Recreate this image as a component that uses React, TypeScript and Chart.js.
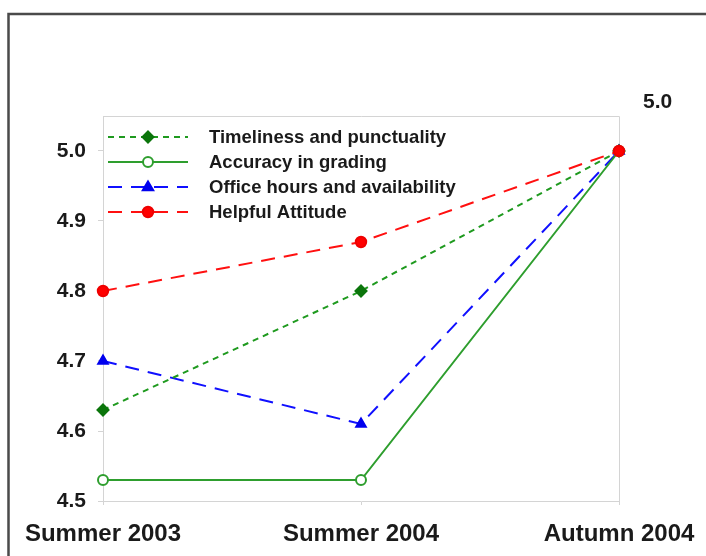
import React, { useEffect, useRef } from "react";
import { Chart, registerables } from "chart.js";

Chart.register(...registerables);

const categories = ["Summer 2003", "Summer 2004", "Autumn 2004"];
const seriesLabels = [
  "Timeliness and punctuality",
  "Accuracy in grading",
  "Office hours and availability",
  "Helpful Attitude",
];
const timeliness = [4.63, 4.8, 5.0];
const accuracy = [4.53, 4.53, 5.0];
const officeHours = [4.7, 4.61, 5.0];
const helpful = [4.8, 4.87, 5.0];
const yTicks = [4.5, 4.6, 4.7, 4.8, 4.9, 5.0];
const endLabel = "5.0";

type Sty = {
  color: string;
  dash: number[];
  shape: string;
  fill: string;
  stroke: string;
  radius: number;
};

const styles: Sty[] = [
  { color: "#1f9a1f", dash: [6, 5], shape: "rectRot", fill: "#0b750b", stroke: "#0b750b", radius: 5.5 },
  { color: "#2e9e2e", dash: [], shape: "circle", fill: "#ffffff", stroke: "#2e9e2e", radius: 5 },
  { color: "#1010ff", dash: [14, 9], shape: "triangle", fill: "#0000ee", stroke: "#0000ee", radius: 5.5 },
  { color: "#ff1010", dash: [14, 9], shape: "circle", fill: "#ff0000", stroke: "#ee0000", radius: 5.2 },
];

function drawMarker(ctx: CanvasRenderingContext2D, s: Sty, x: number, y: number) {
  ctx.save();
  ctx.setLineDash([]);
  ctx.fillStyle = s.fill;
  ctx.strokeStyle = s.stroke;
  ctx.lineWidth = 2;
  const r = s.radius;
  ctx.beginPath();
  if (s.shape === "rectRot") {
    ctx.moveTo(x, y - r);
    ctx.lineTo(x + r, y);
    ctx.lineTo(x, y + r);
    ctx.lineTo(x - r, y);
    ctx.closePath();
  } else if (s.shape === "triangle") {
    ctx.moveTo(x, y - r);
    ctx.lineTo(x + r * 0.95, y + r * 0.6);
    ctx.lineTo(x - r * 0.95, y + r * 0.6);
    ctx.closePath();
  } else {
    ctx.arc(x, y, r, 0, Math.PI * 2);
  }
  ctx.fill();
  ctx.stroke();
  ctx.restore();
}

export default function App() {
  const ref = useRef<HTMLCanvasElement | null>(null);

  useEffect(() => {
    document.body.style.margin = "0";
    const canvas = ref.current;
    if (!canvas) return;
    const values = [timeliness, accuracy, officeHours, helpful];
    const orders = [1, 2, 3, 0];

    const extras = {
      id: "extras",
      beforeDatasetsDraw(chart: any) {
        const { ctx, chartArea } = chart;
        ctx.save();
        ctx.strokeStyle = "#d4d4d4";
        ctx.lineWidth = 1;
        ctx.beginPath();
        ctx.moveTo(chartArea.left, chartArea.top + 0.5);
        ctx.lineTo(chartArea.right + 0.5, chartArea.top + 0.5);
        ctx.lineTo(chartArea.right + 0.5, chartArea.bottom);
        ctx.stroke();
        ctx.restore();
      },
      afterDraw(chart: any) {
        const { ctx, chartArea } = chart;
        const xs = chart.scales.x;
        const ys = chart.scales.y;
        ctx.save();
        // legend
        ctx.font = "bold 18.5px 'Liberation Sans', Arial, sans-serif";
        ctx.textBaseline = "middle";
        ctx.textAlign = "left";
        seriesLabels.forEach((label, i) => {
          const s = styles[i];
          const y = chartArea.top + 21 + i * 25;
          const x0 = chartArea.left + 5;
          ctx.save();
          ctx.strokeStyle = s.color;
          ctx.lineWidth = 2;
          ctx.setLineDash(s.dash);
          ctx.beginPath();
          ctx.moveTo(x0, y);
          ctx.lineTo(x0 + 80, y);
          ctx.stroke();
          ctx.restore();
          drawMarker(ctx, s, x0 + 40, y);
          ctx.fillStyle = "#1a1a1a";
          ctx.fillText(label, x0 + 101, y + 1);
        });
        // end value label
        ctx.font = "bold 21px 'Liberation Sans', Arial, sans-serif";
        ctx.textAlign = "left";
        ctx.fillStyle = "#1a1a1a";
        const lx = xs.getPixelForValue(categories.length - 1);
        ctx.fillText(endLabel, lx + 24, ys.top - 14);
        // frame
        ctx.strokeStyle = "#4a4a4a";
        ctx.lineWidth = 2.5;
        ctx.strokeRect(8.5, 14, 900, 700);
        ctx.restore();
      },
    };

    const chart = new Chart(canvas, {
      type: "line",
      data: {
        labels: categories,
        datasets: values.map((v, i) => ({
          label: seriesLabels[i],
          data: v,
          order: orders[i],
          borderColor: styles[i].color,
          borderWidth: 2,
          borderDash: styles[i].dash,
          pointStyle: styles[i].shape as any,
          pointRadius: styles[i].radius,
          pointBackgroundColor: styles[i].fill,
          pointBorderColor: styles[i].stroke,
          pointBorderWidth: 2,
          tension: 0,
          fill: false,
        })),
      },
      options: {
        animation: false,
        responsive: false,
        devicePixelRatio: 1,
        layout: { padding: { top: 116, right: 87, left: 0, bottom: 0 } },
        plugins: {
          legend: { display: false },
          tooltip: { enabled: false },
        },
        scales: {
          x: {
            type: "category",
            offset: false,
            afterFit(scale: any) {
              scale.height = 55;
              scale.paddingRight = 0;
              scale.paddingLeft = 0;
            },
            grid: {
              drawOnChartArea: false,
              drawTicks: true,
              tickLength: 4,
              color: "#d4d4d4",
            },
            border: { color: "#d4d4d4" },
            ticks: {
              padding: 15,
              maxRotation: 0,
              autoSkip: false,
              color: "#1a1a1a",
              font: { family: "'Liberation Sans', Arial, sans-serif", size: 24, weight: "bold" },
            },
          },
          y: {
            min: yTicks[0],
            max: 5.05,
            afterFit(scale: any) {
              scale.width = 103;
            },
            afterBuildTicks(scale: any) {
              scale.ticks = yTicks.map((v) => ({ value: v }));
            },
            grid: {
              drawOnChartArea: false,
              drawTicks: true,
              tickLength: 5,
              color: "#d4d4d4",
            },
            border: { color: "#d4d4d4" },
            ticks: {
              padding: 12,
              color: "#1a1a1a",
              font: { family: "'Liberation Sans', Arial, sans-serif", size: 21, weight: "bold" },
              callback: (v: any) => Number(v).toFixed(1),
            },
          },
        },
      },
      plugins: [extras],
    });
    return () => chart.destroy();
  }, []);

  return (
    <div style={{ width: 706, height: 556 }}>
      <canvas ref={ref} width={706} height={556} style={{ display: "block" }} />
    </div>
  );
}
